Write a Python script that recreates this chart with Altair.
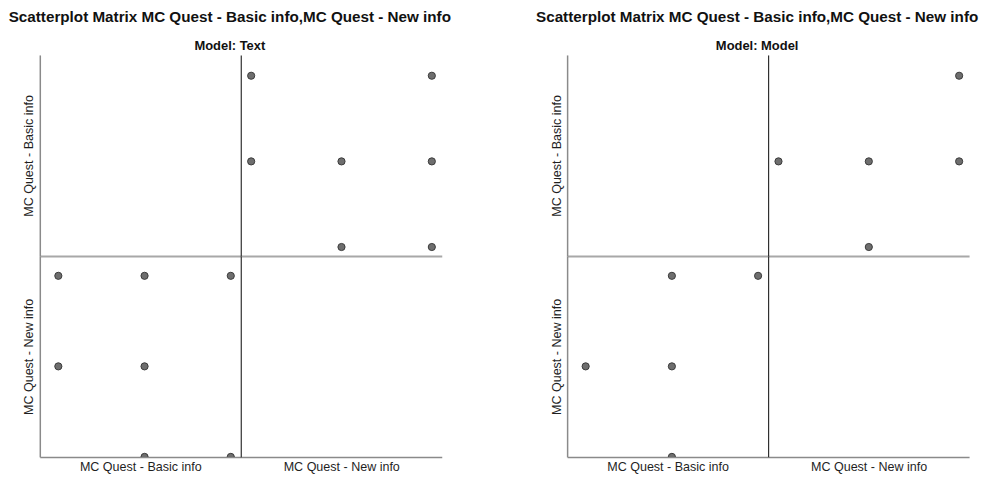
import altair as alt
import pandas as pd

# ---- data (values 1..3 on each variable) ----
basic_text = [3, 3, 2, 2, 2, 1, 1]
new_text = [1, 3, 1, 2, 3, 2, 3]
basic_model = [3, 2, 2, 2, 1]
new_model = [3, 1, 2, 3, 2]

var_basic = "MC Quest - Basic info"
var_new = "MC Quest - New info"
main_title = "Scatterplot Matrix MC Quest - Basic info,MC Quest - New info"
model_names = ["Text", "Model"]

basic_x_domain = [0.785, 3.116]
basic_y_domain = [0.896, 3.243]
new_x_domain = [0.885, 3.11]
new_y_domain = [1.0, 3.22]

FONT = "Liberation Sans"
AXIS_GREY = "#8a8a8a"
DIV_GREY = "#a8a8a8"
DARK = "#303030"
CELL = 202


def axis(color, width, with_title=False):
    kw = dict(labels=False, ticks=False, grid=False, domainColor=color, domainWidth=width)
    if with_title:
        kw.update(titleFont=FONT, titleFontSize=12.6, titleFontWeight="normal",
                  titleColor="#1f1f1f", titlePadding=4)
    return alt.Axis(**kw)


def cell(df, xf, xdom, xaxis, xtitle, yf, ydom, yaxis, ytitle, empty=False):
    base = alt.Chart(df)
    if empty:
        base = base.transform_filter("false")
    return base.mark_circle(size=52, color="#6e6e6e", opacity=1, stroke="#3a3a3a",
                            strokeWidth=1, clip=True).encode(
        x=alt.X(f"{xf}:Q", scale=alt.Scale(domain=xdom, zero=False, nice=False),
                axis=xaxis, title=xtitle),
        y=alt.Y(f"{yf}:Q", scale=alt.Scale(domain=ydom, zero=False, nice=False),
                axis=yaxis, title=ytitle),
    ).properties(width=CELL, height=CELL)


def panel(basic, new, model):
    df = pd.DataFrame({"basic": basic, "new": new})
    tl = cell(df, "basic", basic_x_domain, axis(DIV_GREY, 2), None,
              "basic", basic_y_domain, axis(AXIS_GREY, 1.5, True), var_basic, empty=True)
    tr = cell(df, "new", new_x_domain, axis(DIV_GREY, 2), None,
              "basic", basic_y_domain, axis(DARK, 1.2), None)
    bl = cell(df, "basic", basic_x_domain, axis(AXIS_GREY, 1.5, True), var_basic,
              "new", new_y_domain, axis(AXIS_GREY, 1.5, True), var_new)
    br = cell(df, "new", new_x_domain, axis(AXIS_GREY, 1.5, True), var_new,
              "new", new_y_domain, axis(DARK, 1.2), None, empty=True)
    grid = alt.concat(tl, tr, bl, br, columns=2, spacing=0,
                      title=alt.TitleParams(f"Model: {model}", font=FONT, fontSize=13,
                                            fontWeight="bold", anchor="middle", dx=-2.5,
                                            offset=-8, baseline="alphabetic", color="#111111"))
    return alt.vconcat(grid, spacing=0,
                       title=alt.TitleParams(main_title, font=FONT, fontSize=15.3,
                                             fontWeight="bold", anchor="middle", dx=-2.5,
                                             offset=3, baseline="alphabetic",
                                             color="#111111"))


chart = alt.hconcat(
    panel(basic_text, new_text, model_names[0]),
    panel(basic_model, new_model, model_names[1]),
    spacing=84,
).properties(
    padding={"left": 8, "top": 8, "right": 5, "bottom": 5}
).configure(font=FONT).configure_view(stroke="transparent", strokeWidth=0)

chart.save("out.html", embed_options={"renderer": "svg", "actions": False})
